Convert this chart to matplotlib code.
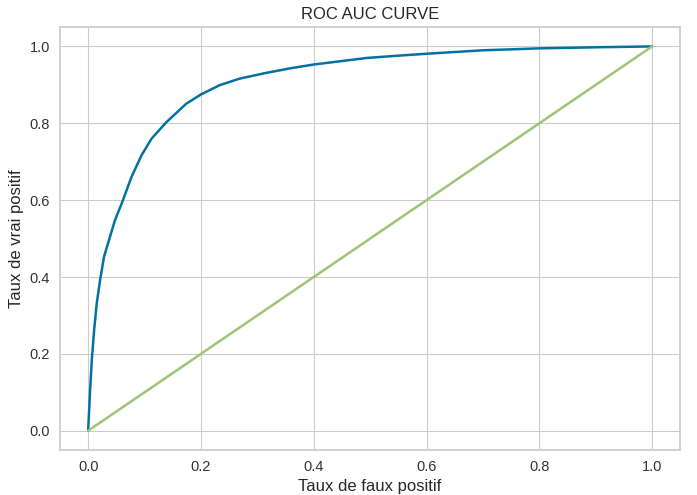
import matplotlib
matplotlib.use("Agg")
import matplotlib.pyplot as plt
import seaborn as sns

# ROC curve
fpr = [0.0, 0.0035, 0.0065, 0.0106, 0.0153, 0.0212, 0.0282, 0.0388, 0.0476,
       0.0594, 0.0771, 0.0947, 0.1124, 0.1388, 0.174, 0.2, 0.233, 0.268,
       0.315, 0.362, 0.4, 0.45, 0.494, 0.55, 0.6, 0.7, 0.8, 0.907, 1.0]
tpr = [0.0, 0.106, 0.184, 0.262, 0.332, 0.392, 0.453, 0.505, 0.548,
       0.591, 0.661, 0.717, 0.76, 0.803, 0.851, 0.875, 0.899, 0.916,
       0.931, 0.944, 0.953, 0.962, 0.97, 0.976, 0.981, 0.99, 0.995, 0.998, 1.0]
diag = [0.0, 1.0]

sns.set_style("whitegrid", {"axes.edgecolor": ".8", "grid.color": ".8"})
plt.rcParams["font.family"] = ["Liberation Sans", "DejaVu Sans"]

fig = plt.figure(figsize=(6.97, 4.95), dpi=100)
ax = fig.add_axes([0.086, 0.091, 0.89, 0.854])
ax.plot(fpr, tpr, color="#0272a2", linewidth=1.8)
ax.plot(diag, diag, color="#9fc377", linewidth=1.8)

ax.set_title("ROC AUC CURVE", fontsize=12)
ax.set_xlabel("Taux de faux positif", fontsize=12)
ax.set_ylabel("Taux de vrai positif", fontsize=12)
ax.tick_params(labelsize=10.5, colors="#333333")
ax.set_xticks([0, 0.2, 0.4, 0.6, 0.8, 1.0])
ax.set_yticks([0, 0.2, 0.4, 0.6, 0.8, 1.0])
for s in ax.spines.values():
    s.set_linewidth(1.25)

fig.savefig("out.png", dpi=100)
